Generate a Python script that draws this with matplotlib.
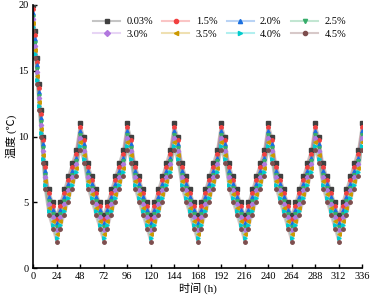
"""Temperature curves for different concentrations over 14 days."""

import matplotlib
matplotlib.use("Agg")
import matplotlib.pyplot as plt

plt.rcParams["font.family"] = ["Liberation Serif", "Noto Sans CJK SC"]
plt.rcParams["font.size"] = 7

hours = [0, 2, 4, 6, 8, 10] + list(range(12, 337, 4))

labels = ["0.03%", "1.5%", "2.0%", "2.5%", "3.0%", "3.5%", "4.0%", "4.5%"]

s_003 = [20.0, 18.0, 16.0, 14.0, 12.0, 10.0, 8.0, 6.0, 5.0, 4.0,
         5, 6, 7, 8, 9, 11, 10, 8, 7, 6, 5, 4,
         5, 6, 7, 8, 9, 11, 10, 8, 7, 6, 5, 4,
         5, 6, 7, 8, 9, 11, 10, 8, 7, 6, 5, 4,
         5, 6, 7, 8, 9, 11, 10, 8, 7, 6, 5, 4,
         5, 6, 7, 8, 9, 11, 10, 8, 7, 6, 5, 4,
         5, 6, 7, 8, 9, 11, 10, 8, 7, 6, 5, 4,
         5, 6, 7, 8, 9, 11]
s_15 = [19.7, 17.7, 15.7, 13.7, 11.7, 9.7, 7.7, 5.7, 4.7, 3.7,
        4.7, 5.7, 6.7, 7.7, 8.7, 10.7, 9.7, 7.7, 6.7, 5.7, 4.7, 3.7,
        4.7, 5.7, 6.7, 7.7, 8.7, 10.7, 9.7, 7.7, 6.7, 5.7, 4.7, 3.7,
        4.7, 5.7, 6.7, 7.7, 8.7, 10.7, 9.7, 7.7, 6.7, 5.7, 4.7, 3.7,
        4.7, 5.7, 6.7, 7.7, 8.7, 10.7, 9.7, 7.7, 6.7, 5.7, 4.7, 3.7,
        4.7, 5.7, 6.7, 7.7, 8.7, 10.7, 9.7, 7.7, 6.7, 5.7, 4.7, 3.7,
        4.7, 5.7, 6.7, 7.7, 8.7, 10.7, 9.7, 7.7, 6.7, 5.7, 4.7, 3.7,
        4.7, 5.7, 6.7, 7.7, 8.7, 10.7]
s_20 = [19.4, 17.4, 15.4, 13.4, 11.4, 9.4, 7.4, 5.4, 4.4, 3.4,
        4.4, 5.4, 6.4, 7.4, 8.4, 10.4, 9.4, 7.4, 6.4, 5.4, 4.4, 3.4,
        4.4, 5.4, 6.4, 7.4, 8.4, 10.4, 9.4, 7.4, 6.4, 5.4, 4.4, 3.4,
        4.4, 5.4, 6.4, 7.4, 8.4, 10.4, 9.4, 7.4, 6.4, 5.4, 4.4, 3.4,
        4.4, 5.4, 6.4, 7.4, 8.4, 10.4, 9.4, 7.4, 6.4, 5.4, 4.4, 3.4,
        4.4, 5.4, 6.4, 7.4, 8.4, 10.4, 9.4, 7.4, 6.4, 5.4, 4.4, 3.4,
        4.4, 5.4, 6.4, 7.4, 8.4, 10.4, 9.4, 7.4, 6.4, 5.4, 4.4, 3.4,
        4.4, 5.4, 6.4, 7.4, 8.4, 10.4]
s_25 = [19.1, 17.1, 15.1, 13.1, 11.1, 9.1, 7.1, 5.1, 4.1, 3.1,
        4.1, 5.1, 6.1, 7.1, 8.1, 10.1, 9.1, 7.1, 6.1, 5.1, 4.1, 3.1,
        4.1, 5.1, 6.1, 7.1, 8.1, 10.1, 9.1, 7.1, 6.1, 5.1, 4.1, 3.1,
        4.1, 5.1, 6.1, 7.1, 8.1, 10.1, 9.1, 7.1, 6.1, 5.1, 4.1, 3.1,
        4.1, 5.1, 6.1, 7.1, 8.1, 10.1, 9.1, 7.1, 6.1, 5.1, 4.1, 3.1,
        4.1, 5.1, 6.1, 7.1, 8.1, 10.1, 9.1, 7.1, 6.1, 5.1, 4.1, 3.1,
        4.1, 5.1, 6.1, 7.1, 8.1, 10.1, 9.1, 7.1, 6.1, 5.1, 4.1, 3.1,
        4.1, 5.1, 6.1, 7.1, 8.1, 10.1]
s_30 = [18.9, 16.9, 14.9, 12.9, 10.9, 8.9, 6.9, 4.9, 3.9, 2.9,
        3.9, 4.9, 5.9, 6.9, 7.9, 9.9, 8.9, 6.9, 5.9, 4.9, 3.9, 2.9,
        3.9, 4.9, 5.9, 6.9, 7.9, 9.9, 8.9, 6.9, 5.9, 4.9, 3.9, 2.9,
        3.9, 4.9, 5.9, 6.9, 7.9, 9.9, 8.9, 6.9, 5.9, 4.9, 3.9, 2.9,
        3.9, 4.9, 5.9, 6.9, 7.9, 9.9, 8.9, 6.9, 5.9, 4.9, 3.9, 2.9,
        3.9, 4.9, 5.9, 6.9, 7.9, 9.9, 8.9, 6.9, 5.9, 4.9, 3.9, 2.9,
        3.9, 4.9, 5.9, 6.9, 7.9, 9.9, 8.9, 6.9, 5.9, 4.9, 3.9, 2.9,
        3.9, 4.9, 5.9, 6.9, 7.9, 9.9]
s_35 = [18.6, 16.6, 14.6, 12.6, 10.6, 8.6, 6.6, 4.6, 3.6, 2.6,
        3.6, 4.6, 5.6, 6.6, 7.6, 9.6, 8.6, 6.6, 5.6, 4.6, 3.6, 2.6,
        3.6, 4.6, 5.6, 6.6, 7.6, 9.6, 8.6, 6.6, 5.6, 4.6, 3.6, 2.6,
        3.6, 4.6, 5.6, 6.6, 7.6, 9.6, 8.6, 6.6, 5.6, 4.6, 3.6, 2.6,
        3.6, 4.6, 5.6, 6.6, 7.6, 9.6, 8.6, 6.6, 5.6, 4.6, 3.6, 2.6,
        3.6, 4.6, 5.6, 6.6, 7.6, 9.6, 8.6, 6.6, 5.6, 4.6, 3.6, 2.6,
        3.6, 4.6, 5.6, 6.6, 7.6, 9.6, 8.6, 6.6, 5.6, 4.6, 3.6, 2.6,
        3.6, 4.6, 5.6, 6.6, 7.6, 9.6]
s_40 = [18.3, 16.3, 14.3, 12.3, 10.3, 8.3, 6.3, 4.3, 3.3, 2.3,
        3.3, 4.3, 5.3, 6.3, 7.3, 9.3, 8.3, 6.3, 5.3, 4.3, 3.3, 2.3,
        3.3, 4.3, 5.3, 6.3, 7.3, 9.3, 8.3, 6.3, 5.3, 4.3, 3.3, 2.3,
        3.3, 4.3, 5.3, 6.3, 7.3, 9.3, 8.3, 6.3, 5.3, 4.3, 3.3, 2.3,
        3.3, 4.3, 5.3, 6.3, 7.3, 9.3, 8.3, 6.3, 5.3, 4.3, 3.3, 2.3,
        3.3, 4.3, 5.3, 6.3, 7.3, 9.3, 8.3, 6.3, 5.3, 4.3, 3.3, 2.3,
        3.3, 4.3, 5.3, 6.3, 7.3, 9.3, 8.3, 6.3, 5.3, 4.3, 3.3, 2.3,
        3.3, 4.3, 5.3, 6.3, 7.3, 9.3]
s_45 = [18.0, 16.0, 14.0, 12.0, 10.0, 8.0, 6.0, 4.0, 3.0, 2.0,
        3, 4, 5, 6, 7, 9, 8, 6, 5, 4, 3, 2,
        3, 4, 5, 6, 7, 9, 8, 6, 5, 4, 3, 2,
        3, 4, 5, 6, 7, 9, 8, 6, 5, 4, 3, 2,
        3, 4, 5, 6, 7, 9, 8, 6, 5, 4, 3, 2,
        3, 4, 5, 6, 7, 9, 8, 6, 5, 4, 3, 2,
        3, 4, 5, 6, 7, 9, 8, 6, 5, 4, 3, 2,
        3, 4, 5, 6, 7, 9]

series = [s_003, s_15, s_20, s_25, s_30, s_35, s_40, s_45]
colors = ["#404040", "#F14040", "#1A6FDF", "#37AD6B",
          "#B177DE", "#CC9900", "#00CBCC", "#7D4E4E"]
markers = ["s", "o", "^", "v", "D", "<", ">", "o"]

fig = plt.figure(figsize=(3.71, 3.03), dpi=100)
ax = fig.add_axes([0.089, 0.1155, 0.887, 0.868])

handles = []
for vals, lab, c, m in zip(series, labels, colors, markers):
    ax.plot(hours, vals, color=c, alpha=0.3, lw=1.5, zorder=1)
    ax.plot(hours, vals, ls="none", marker=m, ms=2.5 if m != "D" else 2.2,
            color=c, mec=c, zorder=2)
    # legend proxy: pale line + solid marker
    h1, = ax.plot([], [], color=c, alpha=0.3, lw=1.5)
    h2, = ax.plot([], [], ls="none", marker=m, ms=3, color=c)
    handles.append((h1, h2))

# legend fills column-wise, reorder so rows read 0.03..2.5 / 3.0..4.5
order = [0, 4, 1, 5, 2, 6, 3, 7]
ax.legend([handles[i] for i in order], [labels[i] for i in order],
          ncol=4, loc="upper right", bbox_to_anchor=(0.98, 0.99),
          frameon=False, handlelength=2.6, handletextpad=0.6,
          columnspacing=0.9, labelspacing=0.3, fontsize=7.5)

ax.set_xlim(0, 336)
ax.set_ylim(0, 20)
ax.set_xticks(range(0, 337, 24))
ax.set_yticks([0, 5, 10, 15, 20])
ax.tick_params(direction="in", length=3, width=1, labelsize=7.5, pad=3)
ax.spines["top"].set_visible(False)
ax.spines["right"].set_visible(False)
for s in ("left", "bottom"):
    ax.spines[s].set_linewidth(1.2)

ax.set_xlabel("时间 (h)", fontsize=8, labelpad=1)
ax.set_ylabel("温度 (℃)", fontsize=8, labelpad=1)

fig.savefig("out.png", dpi=100)
